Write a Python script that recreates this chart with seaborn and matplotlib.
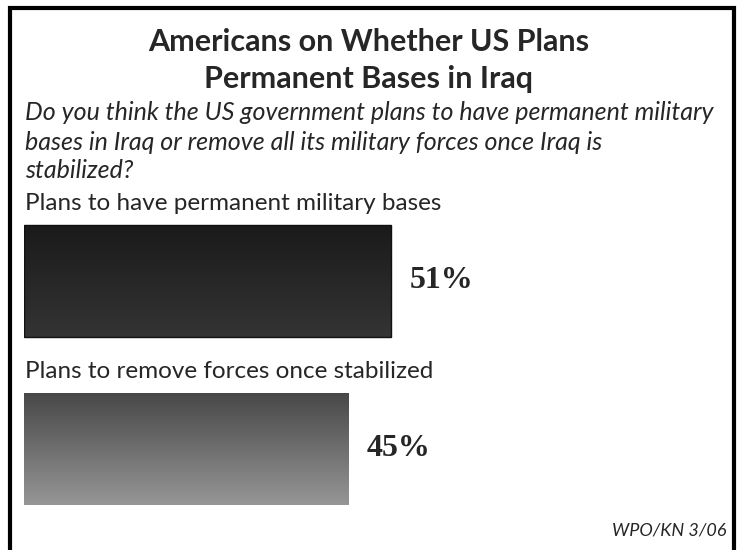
import numpy as np
import pandas as pd
import matplotlib
matplotlib.use("Agg")
import matplotlib.pyplot as plt
from matplotlib.patches import Rectangle
from matplotlib.colors import LinearSegmentedColormap
import seaborn as sns

# Data
categories = ["Plans to have permanent military bases",
              "Plans to remove forces once stabilized"]
values = [51, 45]
value_labels = ["51%", "45%"]
title_lines = ["Americans on Whether US Plans", "Permanent Bases in Iraq"]
question_lines = ["Do you think the US government plans to have permanent military",
                  "bases in Iraq or remove all its military forces once Iraq is",
                  "stabilized?"]
source = "WPO/KN 3/06"

# gradient colours (top -> bottom) for each bar
gradients = [("#1a1a1a", "#343434"), ("#474747", "#969696")]

sns.set_style("white")
plt.rcParams["font.family"] = ["Lato", "DejaVu Sans"]

W, H = 737, 550
fig = plt.figure(figsize=(W / 100, H / 100), dpi=100)
fig.patch.set_facecolor("white")

# outer frame
fig.patches.append(Rectangle((9.5 / W, -0.05), (733.5 - 9.5) / W, 1.05 - 8.5 / H,
                             transform=fig.transFigure, fill=False,
                             edgecolor="black", linewidth=3, zorder=0))

# title + question
for y, line in zip([42, 79], title_lines):
    fig.text(0.5, 1 - y / H, line, ha="center", va="center",
             fontsize=22, fontweight="bold")
for y, line in zip([113, 142, 171], question_lines):
    fig.text(25 / W, 1 - y / H, line, ha="left", va="center",
             fontsize=18, style="italic")

# bar axes
ax = fig.add_axes([24 / W, 1 - 533 / H, 700 / W, 336 / H])
df = pd.DataFrame({"category": categories, "value": values})
sns.barplot(data=df, x="value", y="category", orient="h", width=0.667,
            color="white", ax=ax)
ax.set_xlim(0, 700 / 7.2)
ax.set_ylim(1.5, -0.5)
ax.axis("off")

for i, patch in enumerate(ax.patches):
    x0, y0 = patch.get_x(), patch.get_y()
    w, h = patch.get_width(), patch.get_height()
    cmap = LinearSegmentedColormap.from_list("g", list(gradients[i]))
    grad = np.linspace(0, 1, 256).reshape(-1, 1)
    im = ax.imshow(grad, cmap=cmap, aspect="auto",
                   extent=(x0, x0 + w, y0 + h, y0), origin="upper", zorder=2)
    im.set_clip_path(patch)
    patch.set_facecolor("none")
    patch.set_edgecolor("#111111" if i == 0 else "none")
    patch.set_linewidth(1)
    patch.set_zorder(3)
    ax.text(values[i] + 2.6, i, value_labels[i], ha="left", va="center",
            fontsize=23, fontweight="bold", family="Liberation Serif")

# category labels above the bars
fig.text(25 / W, 1 - 204 / H, categories[0], ha="left", va="center", fontsize=17.5)
fig.text(25 / W, 1 - 372 / H, categories[1], ha="left", va="center", fontsize=17.5)

fig.text(727 / W, 1 - 531 / H, source, ha="right", va="center",
         fontsize=13, style="italic")

fig.savefig("out.png", dpi=100)
